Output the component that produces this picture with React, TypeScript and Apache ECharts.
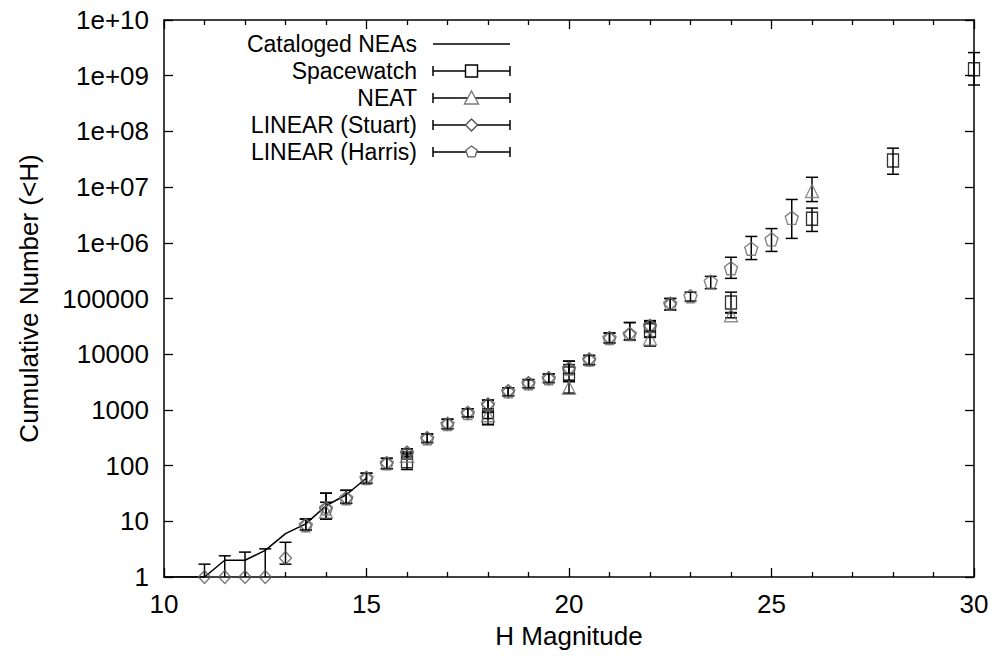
import React, { useEffect, useRef } from "react";
import * as echarts from "echarts";

// ---------- data ----------
const catalogedH = [10, 10.5, 11, 11.5, 12, 12.5, 13, 13.5, 14, 14.5, 15];
const catalogedN = [1, 1, 1, 2, 2, 3, 6, 9, 19, 30, 60];

const spacewatchH = [16, 18, 20, 22, 24, 26, 28, 30];
const spacewatchN = [120, 720, 4500, 27000, 85000, 2.7e6, 3.0e7, 1.3e9];
const spacewatchLo = [85, 540, 3300, 20000, 55000, 1.6e6, 1.7e7, 6.8e8];
const spacewatchHi = [165, 900, 6500, 38000, 130000, 4.2e6, 5.0e7, 2.6e9];

const neatH = [14, 16, 18, 20, 22, 24, 26];
const neatN = [15, 150, 800, 2500, 19000, 50000, 8.5e6];
const neatLo = [11, 130, 700, 2000, 14000, 45000, 5.5e6];
const neatHi = [22, 175, 950, 3200, 25000, 56000, 1.5e7];

const stuartH = [11, 11.5, 12, 12.5, 13, 13.5, 14, 14.5, 15, 15.5, 16, 16.5, 17, 17.5, 18, 18.5, 19, 19.5, 20, 20.5, 21, 21.5, 22, 22.5];
const stuartN = [1, 1, 1, 1, 2.2, 8.5, 17, 26, 60, 110, 170, 310, 560, 880, 1250, 2150, 3000, 3700, 5500, 8000, 19500, 23000, 32000, 80000];
const stuartLo = [0.5, 0.5, 0.5, 0.5, 1.7, 7, 11, 21, 48, 88, 145, 260, 460, 750, 1050, 1800, 2500, 3100, 4500, 6500, 16000, 18000, 26000, 62000];
const stuartHi = [1.7, 2.4, 2.8, 3.2, 4.2, 11, 32, 36, 73, 135, 200, 370, 680, 1050, 1500, 2500, 3500, 4400, 7500, 9500, 24000, 37000, 40000, 100000];

const harrisH = [13.5, 14, 14.5, 15, 15.5, 16, 16.5, 17, 17.5, 18, 18.5, 19, 19.5, 20, 20.5, 21, 21.5, 22, 22.5, 23, 23.5, 24, 24.5, 25, 25.5];
const harrisN = [8.5, 17, 26, 60, 110, 170, 310, 560, 880, 1250, 2150, 3000, 3700, 5500, 8000, 19500, 23000, 32000, 80000, 110000, 200000, 350000, 780000, 1.15e6, 2.8e6];
const harrisLo = [7, 11, 21, 48, 88, 145, 260, 460, 750, 1050, 1800, 2500, 3100, 4500, 6500, 16000, 18000, 26000, 62000, 90000, 150000, 230000, 500000, 7e5, 1.2e6];
const harrisHi = [11, 32, 36, 73, 135, 200, 370, 680, 1050, 1500, 2500, 3500, 4400, 7500, 9500, 24000, 37000, 40000, 100000, 130000, 250000, 550000, 1.3e6, 1.8e6, 6e6];

const legendNames = ["Cataloged NEAs", "Spacewatch", "NEAT", "LINEAR (Stuart)", "LINEAR (Harris)"];
const yTickLabels = ["1", "10", "100", "1000", "10000", "100000", "1e+06", "1e+07", "1e+08", "1e+09", "1e+10"];
const xTicks = [10, 15, 20, 25, 30];

// ---------- styling ----------
const FONT = "'Liberation Sans', Arial, sans-serif";
const FS = 26;
const LEG_FS = 23;
const Y_MIN = 1;
const Y_MAX = 1e10;
const CAP = 6;
const PENTAGON = "path://M0,-1 L0.951,-0.309 L0.588,0.809 L-0.588,0.809 L-0.951,-0.309 Z";
const SQUARE_COLOR = "#000";
const TRI_COLOR = "#777";
const DIA_COLOR = "#555";
const PENT_COLOR = "#666";

function zip(h: number[], n: number[]) {
  return h.map((x, i) => [x, n[i]]);
}
function zip3(h: number[], lo: number[], hi: number[]) {
  return h.map((x, i) => [x, lo[i], hi[i]]);
}

const errRender = (params: any, api: any) => {
  const x = api.value(0);
  const lo = api.value(1);
  const hi = api.value(2);
  const loC = Math.max(lo, Y_MIN);
  const pTop = api.coord([x, hi]);
  const pBot = api.coord([x, loC]);
  const st = { stroke: "#000", lineWidth: 1.5, fill: "none" };
  const children: any[] = [
    { type: "line", shape: { x1: pTop[0], y1: pTop[1], x2: pBot[0], y2: pBot[1] }, style: st },
    { type: "line", shape: { x1: pTop[0] - CAP, y1: pTop[1], x2: pTop[0] + CAP, y2: pTop[1] }, style: st },
  ];
  if (lo >= Y_MIN) {
    children.push({ type: "line", shape: { x1: pBot[0] - CAP, y1: pBot[1], x2: pBot[0] + CAP, y2: pBot[1] }, style: st });
  }
  return { type: "group", children };
};

function errSeries(h: number[], lo: number[], hi: number[]) {
  return {
    type: "custom",
    renderItem: errRender,
    data: zip3(h, lo, hi),
    encode: { x: 0, y: [1, 2] },
    clip: false,
    silent: true,
    z: 3,
  };
}

function scatterSeries(name: string, h: number[], n: number[], symbol: string, color: string, size: number | number[]) {
  return {
    type: "scatter",
    name,
    data: zip(h, n),
    symbol,
    symbolSize: size,
    clip: false,
    itemStyle: { color: "rgba(0,0,0,0)", borderColor: color, borderWidth: 1.4 },
    z: 4,
  };
}

function buildLegend() {
  const els: any[] = [];
  const xText = 417;
  const x1 = 433;
  const x2 = 510;
  const xm = (x1 + x2) / 2;
  const st = { stroke: "#000", lineWidth: 1.5, fill: "none" };
  legendNames.forEach((name, i) => {
    const y = 44 + i * 27;
    els.push({
      type: "text",
      x: xText,
      y,
      style: {
        text: name,
        font: `${LEG_FS}px ${FONT}`,
        fill: "#000",
        textAlign: "right",
        textVerticalAlign: "middle",
      },
    });
    els.push({ type: "line", shape: { x1, y1: y, x2, y2: y }, style: st });
    if (i > 0) {
      els.push({ type: "line", shape: { x1, y1: y - 5, x2: x1, y2: y + 5 }, style: st });
      els.push({ type: "line", shape: { x1: x2, y1: y - 5, x2, y2: y + 5 }, style: st });
    }
    const s = 6;
    const sym = { fill: "#fff", lineWidth: 1.4 };
    if (i === 1) {
      els.push({ type: "rect", shape: { x: xm - s, y: y - s, width: 2 * s, height: 2 * s }, style: { ...sym, stroke: SQUARE_COLOR } });
    } else if (i === 2) {
      els.push({ type: "polygon", shape: { points: [[xm, y - s - 1], [xm + s + 1, y + s], [xm - s - 1, y + s]] }, style: { ...sym, stroke: TRI_COLOR } });
    } else if (i === 3) {
      els.push({ type: "polygon", shape: { points: [[xm, y - s], [xm + s, y], [xm, y + s], [xm - s, y]] }, style: { ...sym, stroke: DIA_COLOR } });
    } else if (i === 4) {
      const pts: number[][] = [];
      for (let k = 0; k < 5; k++) {
        const a = -Math.PI / 2 + (k * 2 * Math.PI) / 5;
        pts.push([xm + s * Math.cos(a), y + s * Math.sin(a)]);
      }
      els.push({ type: "polygon", shape: { points: pts }, style: { ...sym, stroke: PENT_COLOR } });
    }
  });
  return els;
}

export default function App() {
  const ref = useRef<HTMLDivElement>(null);
  useEffect(() => {
    if (!ref.current) return;
    const chart = echarts.init(ref.current, undefined, { renderer: "svg" });
    const axisLine = { show: true, onZero: false, lineStyle: { color: "#000", width: 1.5 } };
    const xBase = {
      type: "value",
      min: 10,
      max: 30,
      interval: 5,
      axisLine,
      axisTick: { show: true, inside: true, length: 9, lineStyle: { color: "#000", width: 1.3 } },
      minorTick: { show: true, splitNumber: 5, length: 5, lineStyle: { color: "#000", width: 1.3 } },
      splitLine: { show: false },
      minorSplitLine: { show: false },
    };
    const yBase = {
      type: "log",
      logBase: 10,
      min: Y_MIN,
      max: Y_MAX,
      interval: 1,
      splitNumber: 10,
      axisLine,
      axisTick: { show: true, inside: true, length: 9, lineStyle: { color: "#000", width: 1.3 } },
      minorTick: { show: false },
      splitLine: { show: false },
    };
    chart.setOption({
      animation: false,
      backgroundColor: "#fff",
      grid: { left: 164, right: 20, top: 20, bottom: 83, containLabel: false },
      xAxis: [
        {
          ...xBase,
          position: "bottom",
          name: "H Magnitude",
          nameLocation: "middle",
          nameGap: 46,
          nameTextStyle: { fontFamily: FONT, fontSize: FS, color: "#000" },
          axisLabel: {
            show: true,
            margin: 14,
            fontFamily: FONT,
            fontSize: FS,
            color: "#000",
            formatter: (v: number) => (xTicks.includes(v) ? String(v) : ""),
          },
        },
        { ...xBase, position: "top", axisLabel: { show: false } },
      ],
      yAxis: [
        {
          ...yBase,
          position: "left",
          name: "Cumulative Number (<H)",
          nameLocation: "middle",
          nameGap: 122,
          nameRotate: 90,
          nameTextStyle: { fontFamily: FONT, fontSize: FS, color: "#000" },
          axisLabel: {
            show: true,
            margin: 15,
            fontFamily: FONT,
            fontSize: FS,
            color: "#000",
            formatter: (v: number) => yTickLabels[Math.round(Math.log10(v))] ?? "",
          },
        },
        { ...yBase, position: "right", axisLabel: { show: false } },
      ],
      graphic: buildLegend(),
      series: [
        {
          type: "line",
          name: "Cataloged NEAs",
          data: zip(catalogedH, catalogedN),
          showSymbol: false,
          symbol: "none",
          lineStyle: { color: "#000", width: 1.5 },
          z: 2,
        },
        errSeries(spacewatchH, spacewatchLo, spacewatchHi),
        errSeries(neatH, neatLo, neatHi),
        errSeries(stuartH, stuartLo, stuartHi),
        errSeries(harrisH, harrisLo, harrisHi),
        scatterSeries("Spacewatch", spacewatchH, spacewatchN, "rect", SQUARE_COLOR, [11, 13]),
        scatterSeries("NEAT", neatH, neatN, "triangle", TRI_COLOR, 13),
        scatterSeries("LINEAR (Stuart)", stuartH, stuartN, "diamond", DIA_COLOR, [12, 13]),
        scatterSeries("LINEAR (Harris)", harrisH, harrisN, PENTAGON, PENT_COLOR, 13),
      ],
    });
    return () => chart.dispose();
  }, []);
  return <div ref={ref} style={{ position: "fixed", left: 0, top: 0, width: 994, height: 660 }} />;
}
